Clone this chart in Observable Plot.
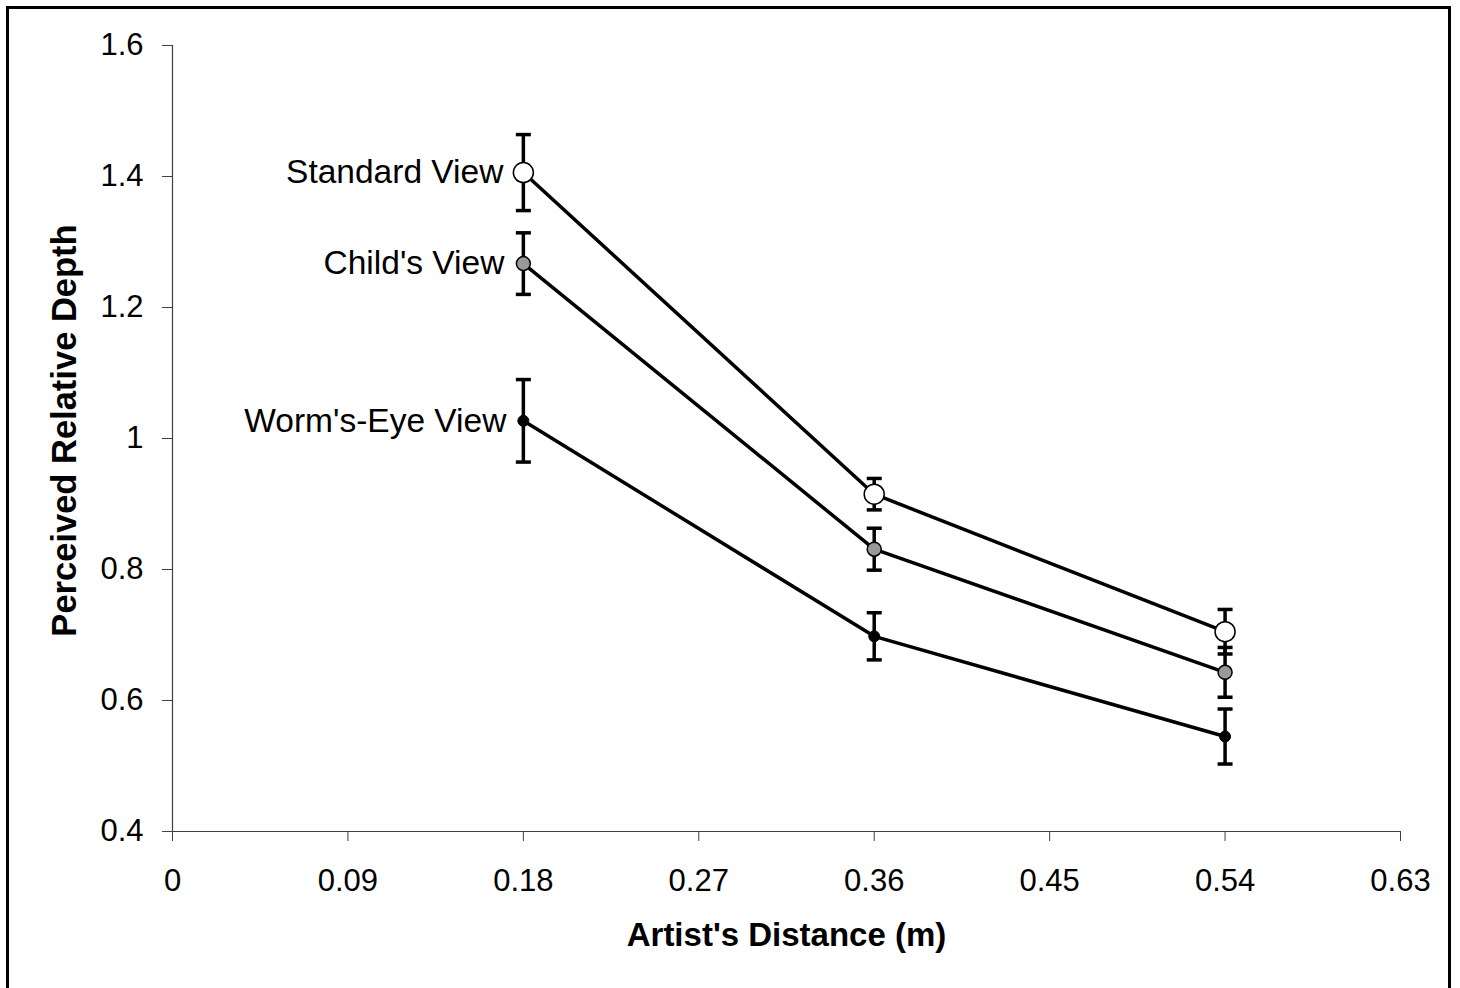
<!DOCTYPE html>
<html>
<head>
<meta charset="utf-8">
<script src="https://cdn.jsdelivr.net/npm/d3@7"></script>
<script src="https://cdn.jsdelivr.net/npm/@observablehq/plot@0.6"></script>
<style>
  html, body { margin: 0; padding: 0; background: #fff; overflow: hidden; }
  #wrap { position: relative; width: 1460px; height: 988px; }
  #border { position: absolute; left: 6px; top: 6px; width: 1445px; height: 1000px; box-sizing: border-box; border: 3px solid #000; pointer-events: none; }
</style>
</head>
<body>
<div id="wrap"><div id="border"></div></div>
<script>
// ---- data ----
const distances = [0.18, 0.36, 0.54];
const seriesNames = ["Standard View", "Child's View", "Worm's-Eye View"];
const standardMean = [1.406, 0.915, 0.705];
const standardErr  = [0.058, 0.024, 0.034];
const childMean    = [1.267, 0.831, 0.643];
const childErr     = [0.047, 0.032, 0.038];
const wormMean     = [1.027, 0.698, 0.545];
const wormErr      = [0.063, 0.036, 0.042];
const xTicks = [0, 0.09, 0.18, 0.27, 0.36, 0.45, 0.54, 0.63];
const xTickLabels = ["0", "0.09", "0.18", "0.27", "0.36", "0.45", "0.54", "0.63"];
const yTicks = [0.4, 0.6, 0.8, 1.0, 1.2, 1.4, 1.6];
const yTickLabels = ["0.4", "0.6", "0.8", "1", "1.2", "1.4", "1.6"];
const xTitle = "Artist's Distance (m)";
const yTitle = "Perceived Relative Depth";

function rows(name, mean, err) {
  return distances.map((x, i) => ({series: name, x, y: mean[i], lo: mean[i] - err[i], hi: mean[i] + err[i]}));
}
const standard = rows(seriesNames[0], standardMean, standardErr);
const child = rows(seriesNames[1], childMean, childErr);
const worm = rows(seriesNames[2], wormMean, wormErr);
const all = [...standard, ...child, ...worm];

const capSymbol = {
  draw(ctx, size) {
    const w = Math.sqrt(size / Math.PI);
    ctx.moveTo(-w, 0);
    ctx.lineTo(w, 0);
  }
};

const font = '"Liberation Sans", Arial, Helvetica, sans-serif';

const chart = Plot.plot({
  width: 1460,
  height: 988,
  marginLeft: 172,
  marginRight: 60,
  marginTop: 45,
  marginBottom: 157,
  style: {fontFamily: font, fontSize: "31px", color: "#000", background: "transparent"},
  x: {domain: [0, 0.63]},
  y: {domain: [0.4, 1.6]},
  marks: [
    Plot.axisX({ticks: xTicks, tickFormat: (d) => xTickLabels[xTicks.indexOf(d)], tickSize: 10, tickPadding: 27, label: null, stroke: "#404040", fontSize: 31}),
    Plot.axisY({ticks: yTicks, tickFormat: (d) => yTickLabels[yTicks.findIndex(t => Math.abs(t - d) < 1e-9)], tickSize: 10, tickPadding: 19, label: null, stroke: "#404040", fontSize: 31}),
    Plot.ruleX([0], {stroke: "#404040", strokeWidth: 1.2}),
    Plot.ruleY([0.4], {stroke: "#404040", strokeWidth: 1.2}),
    // error bars
    Plot.ruleX(all, {x: "x", y1: "lo", y2: "hi", stroke: "#000", strokeWidth: 3.5}),
    Plot.dot(all, {x: "x", y: "hi", symbol: capSymbol, r: 7.5, stroke: "#000", strokeWidth: 3.5, fill: "none"}),
    Plot.dot(all, {x: "x", y: "lo", symbol: capSymbol, r: 7.5, stroke: "#000", strokeWidth: 3.5, fill: "none"}),
    // lines
    Plot.line(all, {x: "x", y: "y", z: "series", stroke: "#000", strokeWidth: 3.5}),
    // markers
    Plot.dot(standard, {x: "x", y: "y", r: 10, fill: "#fff", stroke: "#000", strokeWidth: 1.5}),
    Plot.dot(child, {x: "x", y: "y", r: 7, fill: "#999", stroke: "#000", strokeWidth: 1.5}),
    Plot.dot(worm, {x: "x", y: "y", r: 5.5, fill: "#000", stroke: "#000", strokeWidth: 1}),
    // series labels
    Plot.text([standard[0]], {x: "x", y: "y", text: "series", textAnchor: "end", dx: -20, fontSize: 33.5, fill: "#000"}),
    Plot.text([child[0]], {x: "x", y: "y", text: "series", textAnchor: "end", dx: -19, fontSize: 33.5, fill: "#000"}),
    Plot.text([worm[0]], {x: "x", y: "y", text: "series", textAnchor: "end", dx: -17, fontSize: 33.5, fill: "#000"}),
    // axis titles
    Plot.text([xTitle], {frameAnchor: "bottom", lineAnchor: "middle", dy: 104, fontWeight: "bold", fontSize: 33, fill: "#000"}),
    Plot.text([yTitle], {frameAnchor: "left", textAnchor: "middle", lineAnchor: "middle", rotate: -90, dx: -108, dy: -8, fontWeight: "bold", fontSize: 34.5, fill: "#000"})
  ]
});
document.getElementById("wrap").prepend(chart);
</script>
</body>
</html>
